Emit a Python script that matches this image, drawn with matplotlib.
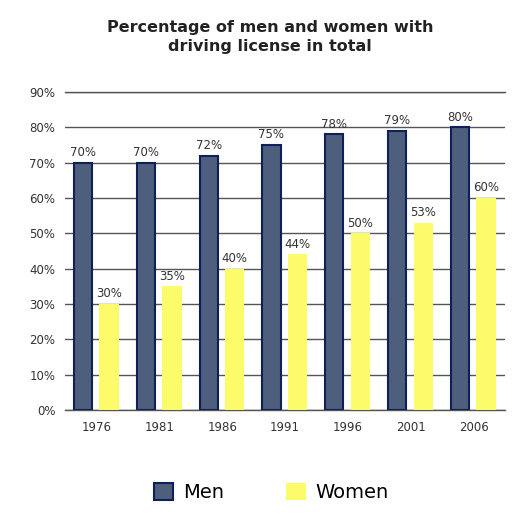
from matplotlib import pyplot as plt
from matplotlib.patches import Patch
import numpy as np

years = ['1976', '1981', '1986', '1991', '1996', '2001', '2006']
men = [70, 70, 72, 75, 78, 79, 80]
women = [30, 35, 40, 44, 50, 53, 60]

plt.rcParams['font.family'] = ['DejaVu Sans']

fig = plt.figure(figsize=(5.22, 5.25), dpi=100)
ax = fig.add_axes([0.1245, 0.219, 0.843, 0.606])

x = np.arange(len(years))
w = 0.29
men_col = '#4d5f7c'
men_edge = '#0f1f5a'
women_col = '#fcfc6a'

ax.bar(x - 0.215, men, width=w, color=men_col, edgecolor=men_edge, linewidth=1.5, zorder=3)
ax.bar(x + 0.2, women, width=w + 0.02, color=women_col, edgecolor='none', zorder=3)

for i in range(len(years)):
    ax.text(x[i] - 0.215, men[i] + 1.0, f'{men[i]}%', ha='center', va='bottom',
            fontsize=8.5, color='#333333', zorder=4)
    ax.text(x[i] + 0.2, women[i] + 1.0, f'{women[i]}%', ha='center', va='bottom',
            fontsize=8.5, color='#333333', zorder=4)

ax.set_xlim(-0.5, len(years) - 0.5)
ax.set_ylim(0, 90)
ax.set_yticks(np.arange(0, 91, 10))
ax.set_yticklabels([f'{v}%' for v in range(0, 91, 10)])
ax.set_xticks(x)
ax.set_xticklabels(years)
ax.tick_params(axis='both', length=0, labelsize=8.5, labelcolor='#333333')
ax.tick_params(axis='y', pad=7)
ax.tick_params(axis='x', pad=8)
ax.yaxis.grid(True, color='#555555', linewidth=1.0, zorder=0)
# keep the 0% and 90% lines full width (not clipped in half at the axes edge)
ax.axhline(0, color='#555555', linewidth=1.0, zorder=0, clip_on=False)
ax.axhline(90, color='#555555', linewidth=1.0, zorder=0, clip_on=False)
for s in ax.spines.values():
    s.set_visible(False)

fig.text(0.517, 0.93, 'Percentage of men and women with\ndriving license in total',
         ha='center', va='center', fontsize=11.5, fontweight='bold', color='#222222',
         linespacing=1.3)

handles = [Patch(facecolor=men_col, edgecolor=men_edge, linewidth=1.5, label='Men'),
           Patch(facecolor=women_col, edgecolor='none', label='Women')]
fig.legend(handles=handles, loc='center', bbox_to_anchor=(0.52, 0.062), ncol=2,
           frameon=False, fontsize=14, handlelength=1.0, handleheight=1.0,
           columnspacing=3.2, handletextpad=0.5)

fig.savefig('out.png', dpi=100)
